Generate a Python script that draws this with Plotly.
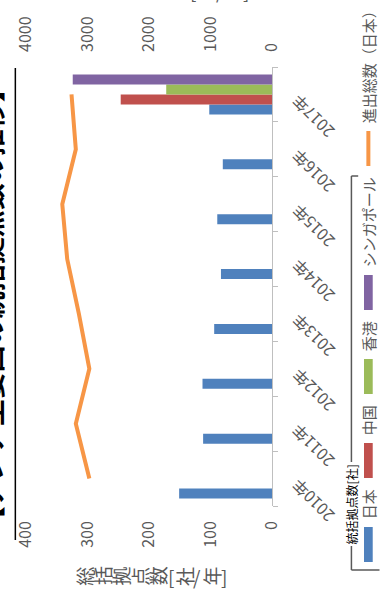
import plotly.graph_objects as go

# ---- data -------------------------------------------------------------
years = ["2010年", "2011年", "2012年", "2013年", "2014年", "2015年", "2016年", "2017年"]
hq_japan = [151, 112, 113, 94, 83, 89, 80, 102]
hq_china = [None, None, None, None, None, None, None, 246]
hq_hongkong = [None, None, None, None, None, None, None, 172]
hq_singapore = [None, None, None, None, None, None, None, 324]
entries_japan = [2970, 3190, 2970, 3140, 3330, 3410, 3190, 3260]

hq_ticks = [0, 100, 200, 300, 400]
entry_ticks = [0, 1000, 2000, 3000, 4000]

series_names = ["日本", "中国", "香港", "シンガポール"]
line_name = "進出総数（日本）"
hq_group_label = "統括拠点数[社]"
hq_axis_title = "総括拠点数[社/年]"
entry_axis_title = "進出総数[社/年]"
chart_title = "【アジア主要国の統括拠点数の推移】"

# ---- geometry ---------------------------------------------------------
W, H = 383, 589
ML, MR, MT, MB = 18, 111, 67, 83
PW, PH = W - ML - MR, H - MT - MB


def px_x(px):
    return (px - ML) / PW


def px_y(py):
    return (H - MB - py) / PH


FONT = "Noto Sans CJK JP"
GREY = "#595959"
BAR_COLORS = ["#4F81BD", "#C0504D", "#9BBB59", "#8064A2"]
LINE_COLOR = "#F79646"
AXIS_COLOR = "#BFBFBF"

fig = go.Figure()

for name, vals, col in zip(series_names,
                           [hq_japan, hq_china, hq_hongkong, hq_singapore],
                           BAR_COLORS):
    fig.add_trace(go.Bar(y=years, x=vals, orientation="h", name=name,
                         marker=dict(color=col, line=dict(width=0)),
                         xaxis="x", yaxis="y"))

fig.add_trace(go.Scatter(y=years, x=entries_japan, mode="lines", name=line_name,
                         line=dict(color=LINE_COLOR, width=4),
                         xaxis="x2", yaxis="y"))

tickfont = dict(family=FONT, size=16, color=GREY)

fig.update_layout(
    width=W, height=H, autosize=False,
    margin=dict(l=ML, r=MR, t=MT, b=MB, pad=0),
    paper_bgcolor="white", plot_bgcolor="white",
    showlegend=False,
    barmode="group", bargap=0.27, bargroupgap=0,
    font=dict(family=FONT, color=GREY, size=16),
    xaxis=dict(range=[400, 0], tickmode="array", tickvals=hq_ticks,
               tickangle=-90, showgrid=False, zeroline=False, showline=False,
               ticks="", ticklabelstandoff=11, tickfont=tickfont),
    xaxis2=dict(overlaying="x", anchor="y", side="top", range=[4000, 0],
                tickmode="array", tickvals=entry_ticks, tickangle=-90,
                showgrid=False, zeroline=False, showline=False,
                ticks="", ticklabelstandoff=14, tickfont=tickfont),
    yaxis=dict(type="category", categoryorder="array", categoryarray=years,
               side="right", range=[-0.5, 7.5], showline=True,
               linecolor=AXIS_COLOR, linewidth=1, ticks="outside", ticklen=5,
               tickcolor=AXIS_COLOR, tickson="boundaries",
               showticklabels=False, showgrid=False, zeroline=False),
)

# year labels, slanted away from the category axis
for yr in years:
    fig.add_annotation(text=yr, xref="paper", x=px_x(283), xanchor="left",
                       yref="y", y=yr, yanchor="top", yshift=8,
                       textangle=-135, showarrow=False, font=tickfont)

# title, running up the left edge (mostly beyond the page) with an underline
fig.add_annotation(text="<b>" + chart_title + "</b>", xref="paper", x=px_x(-19),
                   xanchor="center", yref="paper", y=px_y(304), yanchor="middle",
                   textangle=-90, showarrow=False,
                   font=dict(family=FONT, size=27, color="black"))
fig.add_shape(type="line", xref="paper", yref="paper",
              x0=px_x(7), x1=px_x(7), y0=px_y(68), y1=px_y(540),
              line=dict(color="black", width=1.5))


# stacked axis titles: one glyph per annotation
def glyph_row(text, x_start, y_center, size, upright=("[", "]", "/")):
    x = x_start
    for ch in text:
        narrow = ch in upright
        adv = size * (0.45 if narrow else 1.0)
        fig.add_annotation(text=ch, xref="paper", x=px_x(x + adv / 2),
                           xanchor="center", yref="paper", y=px_y(y_center),
                           yanchor="middle", textangle=0 if narrow else -90,
                           showarrow=False,
                           font=dict(family=FONT, size=size, color=GREY))
        x += adv


glyph_row(hq_axis_title, 68, 576, 19)
glyph_row(entry_axis_title, 110, -9, 19)

# legend: swatches and labels along the right edge
LX = 371.5
swatch_spans = [(527, 562), (443, 478), (359, 394), (275, 310)]
label_centers = [504, 420, 336, 222]
for col, (y0, y1), name, yc in zip(BAR_COLORS, swatch_spans, series_names, label_centers):
    fig.add_shape(type="rect", xref="paper", yref="paper",
                  x0=px_x(LX - 4.5), x1=px_x(LX + 4.5), y0=px_y(y1), y1=px_y(y0),
                  fillcolor=col, line=dict(width=0))
    fig.add_annotation(text=name, xref="paper", x=px_x(LX), xanchor="center",
                       yref="paper", y=px_y(yc), yanchor="middle", textangle=-90,
                       showarrow=False, font=dict(family=FONT, size=15, color=GREY))

fig.add_shape(type="line", xref="paper", yref="paper",
              x0=px_x(LX), x1=px_x(LX), y0=px_y(166), y1=px_y(131),
              line=dict(color=LINE_COLOR, width=4))
fig.add_annotation(text=line_name, xref="paper", x=px_x(LX), xanchor="center",
                   yref="paper", y=px_y(63), yanchor="middle", textangle=-90,
                   showarrow=False, font=dict(family=FONT, size=15, color=GREY))

# bracket grouping the bar series
BX = 354
for seg in [((BX, 570), (BX, 546)), ((BX, 462), (BX, 176)),
            ((BX, 570), (383, 570)), ((BX, 176), (361, 176))]:
    (xa, ya), (xb, yb) = seg
    fig.add_shape(type="line", xref="paper", yref="paper",
                  x0=px_x(xa), x1=px_x(xb), y0=px_y(ya), y1=px_y(yb),
                  line=dict(color=GREY, width=1.5))
fig.add_annotation(text=hq_group_label, xref="paper", x=px_x(BX), xanchor="center",
                   yref="paper", y=px_y(504), yanchor="middle", textangle=-90,
                   showarrow=False, font=dict(family=FONT, size=12, color="#000000"))

fig.write_html("out.html")
